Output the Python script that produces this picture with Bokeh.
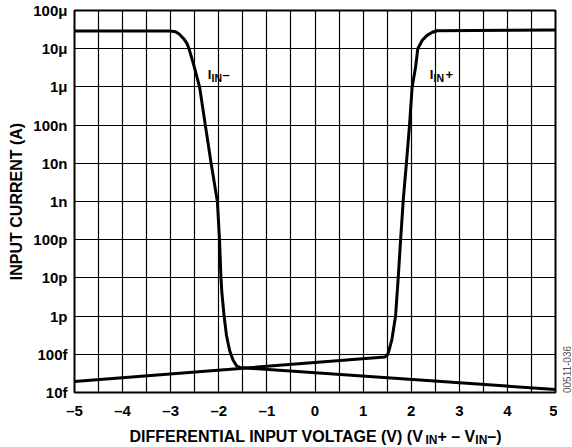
import math
from bokeh.plotting import figure
from bokeh.models import FixedTicker, CustomJSTickFormatter, Label, Range1d
from bokeh.layouts import row, column
from bokeh.embed import file_html
from bokeh.resources import INLINE

# ---------------- data ----------------
x_ticks = [-5, -4, -3, -2, -1, 0, 1, 2, 3, 4, 5]
x_grid = [-5.0, -4.5, -4.0, -3.5, -3.0, -2.5, -2.0, -1.5, -1.0, -0.5, 0.0,
          0.5, 1.0, 1.5, 2.0, 2.5, 3.0, 3.5, 4.0, 4.5, 5.0]
y_ticks = [1e-14, 1e-13, 1e-12, 1e-11, 1e-10, 1e-9, 1e-8, 1e-7, 1e-6, 1e-5, 1e-4]
y_tick_labels = ["10f", "100f", "1p", "10p", "100p", "1n", "10n", "100n", "1μ", "10μ", "100μ"]

# I_IN- (A) versus differential voltage (V)
iin_minus_v = [-5.0, -3.05, -2.97, -2.90, -2.83, -2.73, -2.66, -2.62, -2.52, -2.40,
               -2.28, -2.16, -2.03, -1.985, -1.955, -1.935, -1.89, -1.84, -1.775,
               -1.70, -1.63, -1.56, 5.0]
iin_minus_a = [29e-6, 29e-6, 28.7e-6, 27.9e-6, 24.7e-6, 18.3e-6, 13.6e-6, 10e-6, 3.7e-6, 1e-6,
               1e-7, 1e-8, 1e-9, 1e-10, 1e-11, 4e-12, 1e-12, 3.1e-13, 1.26e-13,
               6.9e-14, 5.0e-14, 4.5e-14, 1.2e-14]

# I_IN+ (A) versus differential voltage (V)
iin_plus_v = [-5.0, 1.45, 1.50, 1.53, 1.56, 1.60, 1.675, 1.73, 1.78, 1.835, 1.90,
              1.965, 2.02, 2.09, 2.137, 2.23, 2.33, 2.44, 2.54, 5.0]
iin_plus_a = [19.3e-15, 85e-15, 93e-15, 115e-15, 160e-15, 250e-15, 1e-12, 1e-11, 1e-10, 1.1e-9, 1e-8,
              1e-7, 1e-6, 3.2e-6, 1e-5, 16.6e-6, 22.3e-6, 27e-6, 29.5e-6, 31e-6]

x_title_pieces = ["DIFFERENTIAL INPUT VOLTAGE (V) (V", "IN", "+ – V", "IN", "–)"]
y_title = "INPUT CURRENT (A)"
fig_code = "00511-036"

FONT = "Liberation Sans"

# helpers: reference pixel -> data coordinates (for annotation placement)
def vx(px):
    return -5 + (px - 74) / 48.1

def ay(py):
    return 10 ** (-14 + (394 - py) / 38.4)

# ---------------- main chart ----------------
p = figure(width=557, height=421, output_backend="svg", toolbar_location=None,
           x_range=(-5, 5), y_range=(1e-14, 1e-4), y_axis_type="log",
           min_border_left=74, min_border_right=2, min_border_top=10, min_border_bottom=27)
p.title = None
p.background_fill_color = "white"
p.border_fill_color = "white"
p.outline_line_color = "black"
p.outline_line_width = 2

p.xaxis.ticker = FixedTicker(ticks=x_ticks, minor_ticks=[])
p.xaxis.formatter = CustomJSTickFormatter(code="""
    return tick < 0 ? '\\u2013' + Math.abs(tick) : String(tick);
""")
p.yaxis.ticker = FixedTicker(ticks=y_ticks, minor_ticks=[])
p.yaxis.formatter = CustomJSTickFormatter(args=dict(vals=y_ticks, labels=y_tick_labels), code="""
    let best = 0;
    for (let i = 0; i < vals.length; i++) {
        if (Math.abs(Math.log10(vals[i]) - Math.log10(tick)) < Math.abs(Math.log10(vals[best]) - Math.log10(tick))) best = i;
    }
    return labels[best];
""")
for ax in (p.xaxis[0], p.yaxis[0]):
    ax.axis_line_color = None
    ax.major_tick_line_color = None
    ax.minor_tick_line_color = None
    ax.major_tick_out = 0
    ax.major_tick_in = 0
    ax.minor_tick_out = 0
    ax.minor_tick_in = 0
    ax.major_label_text_font = FONT
    ax.major_label_text_font_style = "bold"
    ax.major_label_text_font_size = "15px"
    ax.major_label_text_color = "black"
p.xaxis.major_label_standoff = 9
p.yaxis.major_label_standoff = 7

p.yaxis.axis_label = y_title
p.yaxis.axis_label_text_font = FONT
p.yaxis.axis_label_text_font_style = "bold"
p.yaxis.axis_label_text_font_size = "16px"
p.yaxis.axis_label_text_color = "black"
p.yaxis.axis_label_standoff = 5

p.xgrid.ticker = FixedTicker(ticks=x_grid, minor_ticks=[])
for g in (p.xgrid[0], p.ygrid[0]):
    g.grid_line_color = "black"
    g.grid_line_width = 1.2
    g.grid_line_alpha = 1.0

p.line(iin_minus_v, iin_minus_a, line_color="black", line_width=3)
p.line(iin_plus_v, iin_plus_a, line_color="black", line_width=3)

def add_label(fig, x, y, text, size, style="bold", color="black", angle=0.0,
              align="left", baseline="alphabetic"):
    fig.add_layout(Label(x=x, y=y, text=text, text_font=FONT, text_font_style=style,
                         text_font_size=size, text_color=color, angle=angle,
                         text_align=align, text_baseline=baseline))

# curve labels
add_label(p, vx(207.3), ay(74), "I", "13px")
add_label(p, vx(211.0), ay(77.5), "IN", "10.5px")
add_label(p, vx(222.0), ay(74), "–", "13px")

add_label(p, vx(429.3), ay(74), "I", "13px")
add_label(p, vx(433.0), ay(77.5), "IN", "10.5px")
add_label(p, vx(445.0), ay(74), "+", "13px")

# ---------------- blank strips ----------------
def blank(w, h, xr):
    f = figure(width=w, height=h, output_backend="svg", toolbar_location=None,
               x_range=xr, y_range=Range1d(0, h),
               x_axis_location=None, y_axis_location=None,
               min_border=0, min_border_left=0, min_border_right=0,
               min_border_top=0, min_border_bottom=0)
    f.title = None
    f.grid.visible = False
    f.outline_line_color = None
    f.background_fill_color = "white"
    f.border_fill_color = "white"
    return f

# strip below: x-axis title (its frame lines up with the chart frame, so volts are used)
pb = blank(557, 25, Range1d(-5, 5))
fs, fsub = 16, 12
ems = [18.501, 1.0, 2.363, 1.0, 0.889]          # Arial-bold advance widths (em)
sizes = [fs, fsub, fs, fsub, fs]
total = sum(s * e for s, e in zip(sizes, ems))
cur = 315 - total / 2
for text, s, e in zip(x_title_pieces, sizes, ems):
    add_label(pb, vx(cur), 10.0 if s == fs else 7.0, text, f"{s}px")
    cur += s * e

# strip at right: figure code
pr = blank(14, 446, Range1d(0, 14))
add_label(pr, 9.0, 77, fig_code, "10px", style="normal", color="#555555",
          angle=math.pi / 2, align="center", baseline="middle")

layout = row(column(p, pb), pr)
open("out.html", "w").write(file_html(layout, INLINE))
